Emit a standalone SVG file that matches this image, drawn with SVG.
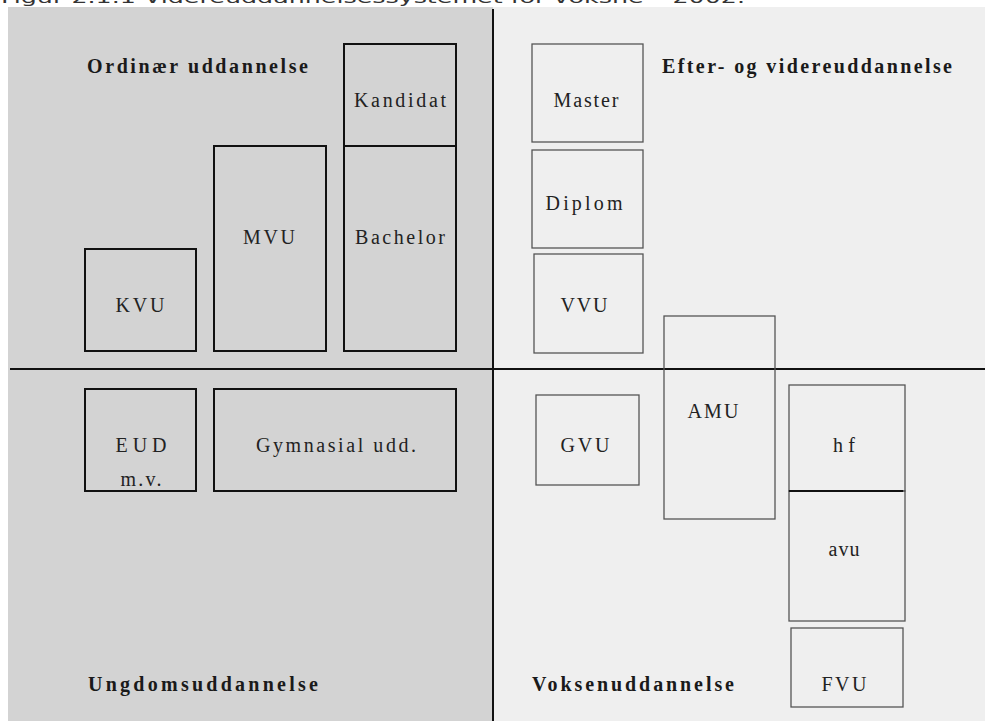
<svg xmlns="http://www.w3.org/2000/svg" width="985" height="721" viewBox="0 0 985 721">
<style>
.lbl{font-family:"Liberation Serif","Times New Roman",serif;font-size:20px;fill:#222;text-anchor:middle}
.hd{font-family:"Liberation Serif","Times New Roman",serif;font-size:20px;font-weight:bold;fill:#1a1a1a}
.bk{fill:none;stroke:#111;stroke-width:2}
.gr{fill:none;stroke:#555;stroke-width:1.3}
.ttl{font-family:"DejaVu Sans",Verdana,sans-serif;font-size:16px;fill:#333}
</style>
<rect x="0" y="0" width="985" height="721" fill="#ffffff"/>
<text class="ttl" x="1" y="3" textLength="744" lengthAdjust="spacingAndGlyphs">Figur 2.1.1 Videreuddannelsessystemet for voksne – 2002.</text>
<rect x="8" y="7" width="485" height="714" fill="#d3d3d3"/>
<rect x="493" y="7" width="492" height="714" fill="#efefef"/>

<g id="lines">
<line x1="493" y1="9" x2="493" y2="721" stroke="#111" stroke-width="2"/>
<line x1="10" y1="369" x2="985" y2="369" stroke="#111" stroke-width="2"/>
</g>

<g id="headings">
<text class="hd" x="87" y="73" textLength="221">Ordinær uddannelse</text>
<text class="hd" x="662" y="73" textLength="290">Efter- og videreuddannelse</text>
<text class="hd" x="88" y="691" textLength="230">Ungdomsuddannelse</text>
<text class="hd" x="532" y="691" textLength="202">Voksenuddannelse</text>
</g>

<g id="kandidat"><rect class="bk" x="344" y="44" width="112" height="102"/><text class="lbl" x="400" y="107" textLength="92">Kandidat</text></g>
<g id="bachelor"><rect class="bk" x="344" y="146" width="112" height="205"/><text class="lbl" x="400" y="244" textLength="90">Bachelor</text></g>
<g id="mvu"><rect class="bk" x="214" y="146" width="112" height="205"/><text class="lbl" x="269" y="244" textLength="52">MVU</text></g>
<g id="kvu"><rect class="bk" x="85" y="249" width="111" height="102"/><text class="lbl" x="140" y="312" textLength="49">KVU</text></g>
<g id="eud"><rect class="bk" x="85" y="389" width="111" height="102"/><text class="lbl" x="141" y="452" textLength="51">EUD</text><text class="lbl" x="141" y="486" textLength="41">m.v.</text></g>
<g id="gymnasial"><rect class="bk" x="214" y="389" width="242" height="102"/><text class="lbl" x="336" y="452" textLength="160">Gymnasial udd.</text></g>

<g id="master"><rect class="gr" x="532" y="44" width="111" height="98"/><text class="lbl" x="586" y="107" textLength="65">Master</text></g>
<g id="diplom"><rect class="gr" x="532" y="150" width="111" height="98"/><text class="lbl" x="584" y="210" textLength="77">Diplom</text></g>
<g id="vvu"><rect class="gr" x="534" y="254" width="109" height="99"/><text class="lbl" x="584" y="312" textLength="47">VVU</text></g>
<g id="amu"><rect class="gr" x="664" y="316" width="111" height="203"/><text class="lbl" x="713" y="418" textLength="51">AMU</text></g>
<g id="gvu"><rect class="gr" x="536" y="395" width="103" height="90"/><text class="lbl" x="585" y="452" textLength="49">GVU</text></g>
<g id="hf"><rect class="gr" x="789" y="385" width="116" height="106"/><text class="lbl" x="844" y="452" textLength="22">hf</text></g>
<g id="avu"><rect class="gr" x="789" y="491" width="116" height="130"/><line x1="789" y1="491" x2="903" y2="491" stroke="#111" stroke-width="2"/><text class="lbl" x="844" y="556" textLength="31">avu</text></g>
<g id="fvu"><rect class="gr" x="791" y="628" width="112" height="79"/><text class="lbl" x="844" y="691" textLength="45">FVU</text></g>
</svg>
